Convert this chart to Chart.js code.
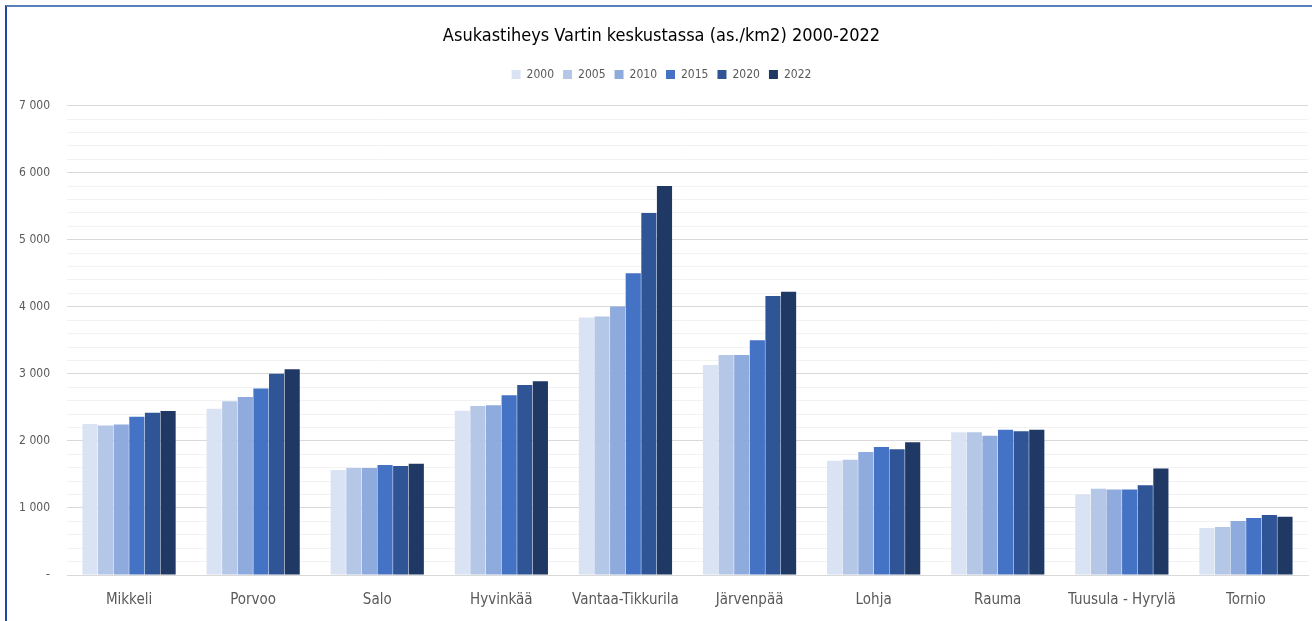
<!DOCTYPE html>
<html>
<head>
<meta charset="utf-8">
<script src="https://cdn.jsdelivr.net/npm/chart.js@4/dist/chart.umd.min.js"></script>
<style>
  body { margin: 0; background: #fff; }
  #frame {
    position: absolute; left: 5px; top: 5px;
    width: 1307px; height: 616px;
    border-top: 2px solid #5b7fb8; border-left: 2px solid #2346a6;
  }
  #chart { display: block; }
</style>
</head>
<body>
<div id="frame"><canvas id="chart" width="1305" height="614"></canvas></div>
<script>
// Asukastiheys Vartin keskustassa, as./km2
const cities = ['Mikkeli', 'Porvoo', 'Salo', 'Hyvinkää', 'Vantaa-Tikkurila', 'Järvenpää', 'Lohja', 'Rauma', 'Tuusula - Hyrylä', 'Tornio'];
const years = ['2000', '2005', '2010', '2015', '2020', '2022'];
const colors = ['#dae3f3', '#b4c7e7', '#8faadc', '#4472c4', '#2f5597', '#203864'];

const v2000 = [2250, 2480, 1565, 2450, 3840, 3130, 1705, 2130, 1205, 700];
const v2005 = [2230, 2590, 1595, 2520, 3855, 3280, 1720, 2130, 1285, 715];
const v2010 = [2245, 2655, 1595, 2530, 4005, 3280, 1835, 2075, 1275, 805];
const v2015 = [2360, 2780, 1640, 2680, 4500, 3500, 1910, 2165, 1275, 850];
const v2020 = [2420, 3000, 1625, 2835, 5400, 4160, 1875, 2145, 1340, 895];
const v2022 = [2445, 3070, 1660, 2890, 5800, 4225, 1980, 2165, 1590, 870];

const series = [v2000, v2005, v2010, v2015, v2020, v2022];
const fontFam = '"Liberation Sans Narrow", "DejaVu Sans Condensed", "Roboto", sans-serif';

// extra room under the legend
const legendGap = {
  id: 'legendGap',
  beforeInit(chart) {
    const fit = chart.legend.fit;
    chart.legend.fit = function () {
      fit.bind(chart.legend)();
      this.height += 15;
    };
  }
};

const ctx = document.getElementById('chart').getContext('2d');
new Chart(ctx, {
  type: 'bar',
  data: {
    labels: cities,
    datasets: series.map((data, i) => ({
      label: years[i],
      data: data,
      backgroundColor: colors[i],
      borderWidth: 0,
      categoryPercentage: 0.755,
      barPercentage: 0.97
    }))
  },
  options: {
    responsive: false,
    animation: false,
    layout: { padding: { left: 8, right: 4, top: 0, bottom: 4 } },
    plugins: {
      title: {
        display: true,
        text: 'Asukastiheys Vartin keskustassa (as./km2) 2000-2022',
        color: '#000',
        font: { family: fontFam, size: 18, weight: 'normal' },
        padding: { top: 19, bottom: 12 }
      },
      legend: {
        position: 'top',
        labels: {
          color: '#595959',
          font: { family: fontFam, size: 12 },
          boxWidth: 9,
          boxHeight: 9,
          padding: 9
        }
      },
      tooltip: { enabled: true }
    },
    scales: {
      x: {
        grid: { display: false },
        border: { color: '#d9d9d9' },
        ticks: { color: '#595959', font: { family: fontFam, size: 15 }, padding: 8 }
      },
      y: {
        min: 0,
        max: 7000,
        afterFit: s => { s.width = 52; },
        border: { display: false },
        grid: {
          drawTicks: false,
          color: c => (c.tick && c.tick.value % 1000 === 0) ? '#d9d9d9' : '#f2f2f2'
        },
        ticks: {
          stepSize: 200,
          autoSkip: false,
          padding: 17,
          color: '#595959',
          font: { family: fontFam, size: 12 },
          callback: v => {
            if (v % 1000 !== 0) return '';
            if (v === 0) return '-';
            return String(v).replace(/\B(?=(\d{3})+(?!\d))/g, ' ');
          }
        }
      }
    }
  },
  plugins: [legendGap]
});
</script>
</body>
</html>
